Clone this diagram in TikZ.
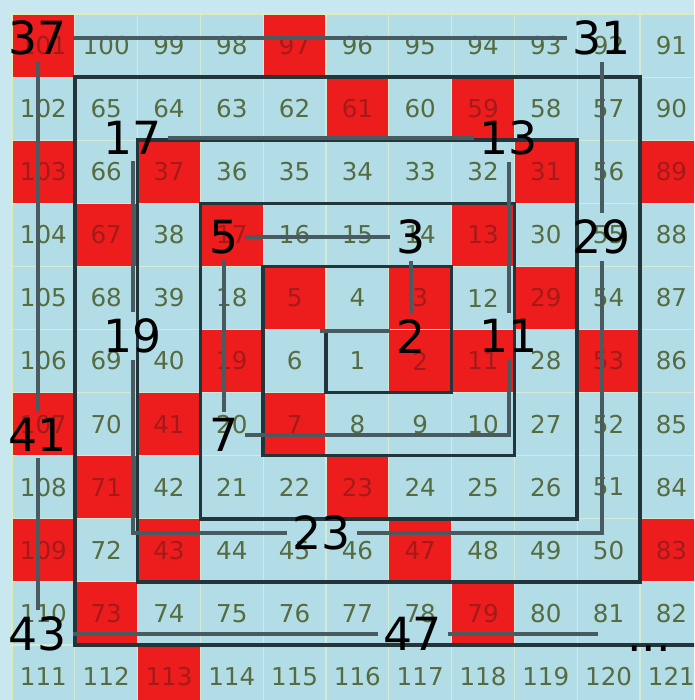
\documentclass[tikz,border=0pt]{standalone}
\usepackage{fontspec}
\setmainfont{DejaVu Sans}
\definecolor{cellblue}{HTML}{B2DDE7}
\definecolor{edgeblue}{HTML}{C9E7EF}
\definecolor{edgeyellow}{HTML}{E2EBB4}
\definecolor{primered}{HTML}{EE1D1D}
\definecolor{numgreen}{HTML}{566B40}
\definecolor{numred}{HTML}{A41A1A}
\definecolor{ringdark}{HTML}{22353B}
\definecolor{linkgray}{HTML}{475B61}
\definecolor{cellline}{HTML}{D3EAD6}
\foreach \p in {2,3,5,7,11,13,17,19,23,29,31,37,41,43,47,53,59,61,67,71,73,79,83,89,97,101,103,107,109,113}
  {\expandafter\gdef\csname isprime\p\endcsname{}}

\begin{document}
\begin{tikzpicture}[x=0.02cm, y=-0.02cm,
    cellnum/.style={font=\fontsize{14}{14}\selectfont, inner sep=0pt},
    prime/.style={font=\fontsize{26}{26}\selectfont, text=black, inner sep=0.12cm},
    ring/.style={draw=ringdark, line width=2pt},
    link/.style={draw=linkgray, line width=2.3pt},
]
\useasboundingbox (0,0) rectangle (694,700);
\clip (0,0) rectangle (694,700);
\fill[edgeblue] (0,0) rectangle (694,700);

% Ulam grid, primes in red
\foreach \row [count=\ry from 0] in {
    {101,100,99,98,97,96,95,94,93,92,91},
    {102,65,64,63,62,61,60,59,58,57,90},
    {103,66,37,36,35,34,33,32,31,56,89},
    {104,67,38,17,16,15,14,13,30,55,88},
    {105,68,39,18,5,4,3,12,29,54,87},
    {106,69,40,19,6,1,2,11,28,53,86},
    {107,70,41,20,7,8,9,10,27,52,85},
    {108,71,42,21,22,23,24,25,26,51,84},
    {109,72,43,44,45,46,47,48,49,50,83},
    {110,73,74,75,76,77,78,79,80,81,82},
    {111,112,113,114,115,116,117,118,119,120,121}} {
  \foreach \n [count=\cx from 0] in \row {
    \ifcsname isprime\n\endcsname
      \def\cellcol{primered}\def\numcol{numred}
    \else
      \def\cellcol{cellblue}\def\numcol{numgreen}
    \fi
    \fill[\cellcol] ({12+62.8*\cx},{14+63.1*\ry}) rectangle +(62.8,63.1);
    \node[cellnum, text=\numcol] (n\n) at ({43.4+62.8*\cx},{45.5+63.1*\ry}) {\n};
  }
}
\foreach \i in {1,...,10} {
  \draw[cellline, line width=0.6pt] ({12+62.8*\i},14) -- ({12+62.8*\i},700);
  \draw[cellline, line width=0.6pt] (12,{14+63.1*\i}) -- (694,{14+63.1*\i});
}
\draw[edgeyellow, line width=0.8pt] (12,700) -- (12,14) -- (694,14);

% ring boundaries
\draw[ring] (326,329.5) -- (326,392.6) -- (451.6,392.6) -- (451.6,266.4)
  -- (263.2,266.4) -- (263.2,455.7) -- (514.4,455.7) -- (514.4,203.3)
  -- (200.4,203.3) -- (200.4,518.8) -- (577.2,518.8) -- (577.2,140.2)
  -- (137.6,140.2) -- (137.6,581.9) -- (640,581.9) -- (640,77.1)
  -- (74.8,77.1) -- (74.8,645) -- (710,645);

% prime spiral
\node[prime] (p2) at (411,337) {2};
\node[prime] (p3) at (411,237) {3};
\node[prime] (p5) at (224,237) {5};
\node[prime] (p7) at (224,435) {7};
\node[prime] (p11) at (509,336) {11};
\node[prime] (p13) at (509,138) {13};
\node[prime] (p17) at (133,138) {17};
\node[prime] (p19) at (133,336) {19};
\node[prime] (p23) at (322,533) {23};
\node[prime] (p29) at (602,237) {29};
\node[prime] (p31) at (602,38) {31};
\node[prime] (p37) at (38,38) {37};
\node[prime] (p41) at (38,435) {41};
\node[prime] (p43) at (38,634) {43};
\node[prime] (p47) at (413,634) {47};
\node[prime, anchor=base, inner sep=0pt] (more) at (649,651) {...};
\coordinate (s) at (320,331);
\coordinate (e) at (598,634);

\draw[link] (s) -- (s -| p2.west);
\draw[link] (p2) -- (p3);
\draw[link] (p3) -- (p5);
\draw[link] (p5) -- (p7);
\draw[link] (p7) -| (p11);
\draw[link] (p11) -- (p13);
\draw[link] (p13) -- (p17);
\draw[link] (p17) -- (p19);
\draw[link] (p19) |- (p23);
\draw[link] (p23) -| (p29);
\draw[link] (p29) -- (p31);
\draw[link] (p31) -- (p37);
\draw[link] (p37) -- (p41);
\draw[link] (p41) -- (p43);
\draw[link] (p43) -- (p47);
\draw[link] (p47) -- (e);

\end{tikzpicture}
\end{document}
